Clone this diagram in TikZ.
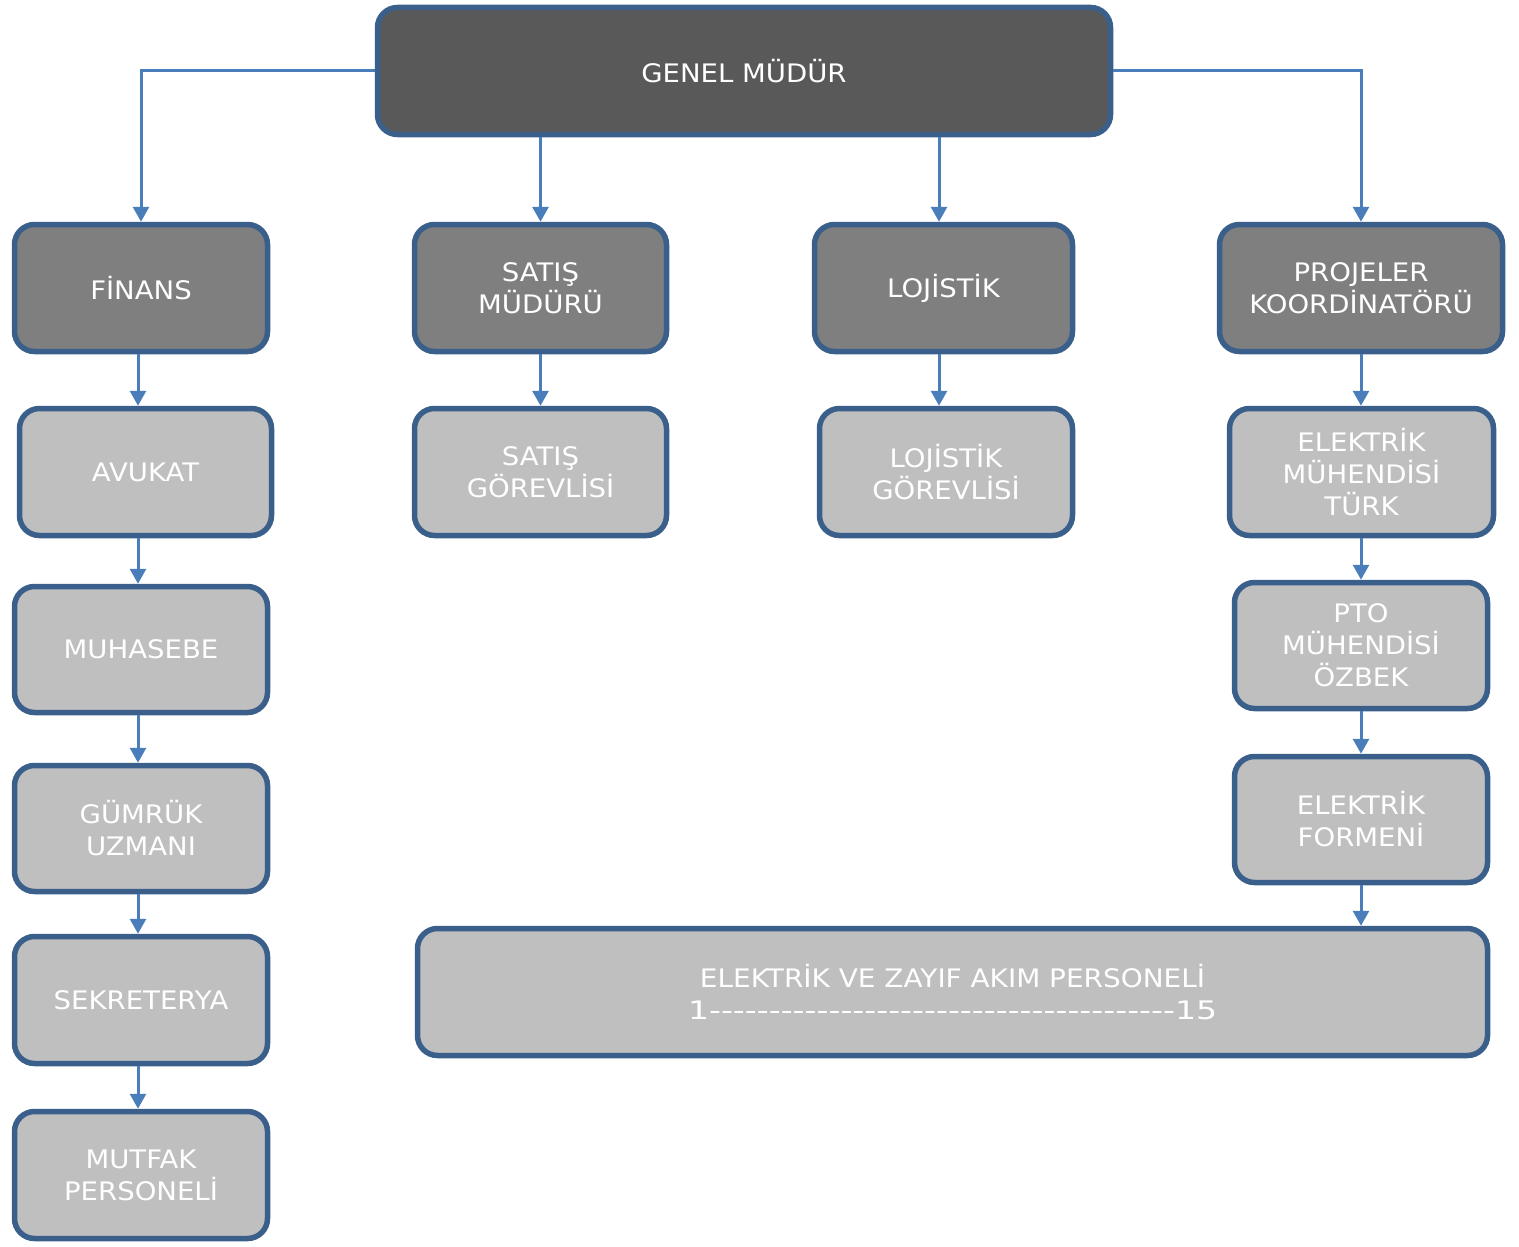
\documentclass[tikz,border=0pt]{standalone}
\usepackage{fontspec}
\usepackage{graphicx}
\setmainfont[FakeStretch=1.08]{DejaVu Sans}
\usetikzlibrary{arrows.meta}
\definecolor{bordc}{HTML}{3A5F8B}
\definecolor{linec}{HTML}{4A7EBB}
\definecolor{darkf}{HTML}{595959}
\definecolor{midf}{HTML}{7F7F7F}
\definecolor{lightf}{HTML}{BFBFBF}
\newcommand{\dashrun}{1-{}-{}-{}-{}-{}-{}-{}-{}-{}-{}-{}-{}-{}-{}-{}-{}-{}-{}-{}-{}-{}-{}-{}-{}-{}-{}-{}-{}-{}-{}-{}-{}-{}-{}-{}-{}-{}-{}-{}15}
\tikzset{
  box/.style={draw=bordc, line width=5.5pt, rounded corners=20pt, text=white,
    align=center, inner sep=0pt, font=\fontsize{25.5}{32}\selectfont},
  topbox/.style={box, fill=darkf},
  midbox/.style={box, fill=midf},
  lowbox/.style={box, fill=lightf},
  arr/.style={draw=linec, line width=3pt, -{Triangle[length=15pt,width=16pt]}}
}
\begin{document}
\begin{tikzpicture}[x=1pt,y=-1pt]
\useasboundingbox (0,0) rectangle (1519,1247);
% nodes
\node[topbox, minimum width=733pt, minimum height=127pt] (gm) at (744,71) {GENEL MÜDÜR};
\node[midbox, minimum width=253pt, minimum height=127pt] (fin) at (141,288) {FİNANS};
\node[midbox, minimum width=252pt, minimum height=127pt] (sm) at (540.5,288) {SATIŞ\\MÜDÜRÜ};
\node[midbox, minimum width=258pt, minimum height=127pt] (loj) at (943.5,288) {LOJİSTİK};
\node[midbox, minimum width=283pt, minimum height=127pt] (pk) at (1361,288) {PROJELER\\KOORDİNATÖRÜ};
\node[lowbox, minimum width=252pt, minimum height=127pt] (avk) at (145.5,472) {AVUKAT};
\node[lowbox, minimum width=252pt, minimum height=127pt] (sg) at (540.5,472) {SATIŞ\\GÖREVLİSİ};
\node[lowbox, minimum width=253pt, minimum height=127pt] (lg) at (946,472) {LOJİSTİK\\GÖREVLİSİ};
\node[lowbox, minimum width=264pt, minimum height=127pt] (em) at (1361.5,472) {ELEKTRİK\\MÜHENDİSİ\\TÜRK};
\node[lowbox, minimum width=253pt, minimum height=126pt] (muh) at (141,649.5) {MUHASEBE};
\node[lowbox, minimum width=253pt, minimum height=126pt] (pto) at (1361,645.5) {PTO\\MÜHENDİSİ\\ÖZBEK};
\node[lowbox, minimum width=253pt, minimum height=126pt] (gum) at (141,828.5) {GÜMRÜK\\UZMANI};
\node[lowbox, minimum width=253pt, minimum height=126pt] (form) at (1361,819.5) {ELEKTRİK\\FORMENİ};
\node[lowbox, minimum width=253pt, minimum height=127pt] (sek) at (141,1000) {SEKRETERYA};
\node[lowbox, minimum width=1070pt, minimum height=127pt] (ezp) at (952.5,992)
  {\resizebox{505pt}{\height}{ELEKTRİK VE ZAYIF AKIM PERSONELİ}\\
   \resizebox{529pt}{\height}{\dashrun}};
\node[lowbox, minimum width=253pt, minimum height=127pt] (mut) at (141,1175) {MUTFAK\\PERSONELİ};
% helper columns
\coordinate (cA) at (138,0);
\coordinate (cB) at (939,0);
% connectors
\draw[arr] (gm.west) -| (fin.north);
\draw[arr] (gm.east) -| (pk.north);
\draw[arr] (sm.north |- gm.south) -- (sm.north);
\draw[arr] (gm.south -| cB) -- (loj.north -| cB);
\draw[arr] (fin.south -| cA) -- (avk.north -| cA);
\draw[arr] (avk.south -| cA) -- (muh.north -| cA);
\draw[arr] (muh.south -| cA) -- (gum.north -| cA);
\draw[arr] (gum.south -| cA) -- (sek.north -| cA);
\draw[arr] (sek.south -| cA) -- (mut.north -| cA);
\draw[arr] (sm.south) -- (sg.north -| sm.south);
\draw[arr] (loj.south -| cB) -- (lg.north -| cB);
\draw[arr] (pk.south) -- (em.north -| pk.south);
\draw[arr] (em.south -| pk.south) -- (pto.north -| pk.south);
\draw[arr] (pto.south -| pk.south) -- (form.north -| pk.south);
\draw[arr] (form.south -| pk.south) -- (ezp.north -| pk.south);
\end{tikzpicture}
\end{document}
